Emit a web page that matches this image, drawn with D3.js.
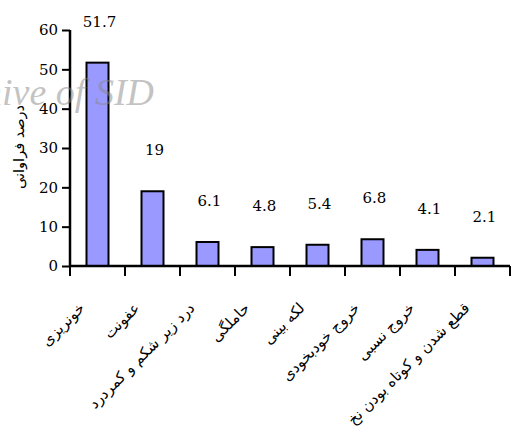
<!DOCTYPE html>
<html><head><meta charset="utf-8">
<script src="https://cdn.jsdelivr.net/npm/d3@7"></script>
<style>body{margin:0;background:#fff}svg{display:block}</style>
</head><body>
<script>
const categories = ["خونریزی","عفونت","درد زیر شکم و کمردرد","حاملگی","لکه بینی","خروج خودبخودی","خروج نسبی","قطع شدن و کوتاه بودن نخ"];
const values = [51.7, 19, 6.1, 4.8, 5.4, 6.8, 4.1, 2.1];
const valueLabels = ["51.7","19","6.1","4.8","5.4","6.8","4.1","2.1"];
const yTicks = [0,10,20,30,40,50,60];
const yTitle = "درصد فراوانی";
const watermark = "Archive of SID";

const W = 515, H = 439;
const svg = d3.select("body").append("svg").attr("width", W).attr("height", H);

const x = d3.scaleBand().domain(categories).range([70, 510]).paddingInner(0.6).paddingOuter(0.3);
const y = d3.scaleLinear().domain([0, 60]).range([266, 30]);

// bars
svg.selectAll("rect.bar").data(values).join("rect").attr("class", "bar")
  .attr("x", (d, i) => x(categories[i])).attr("width", x.bandwidth())
  .attr("y", d => y(d)).attr("height", d => y(0) - y(d))
  .attr("fill", "#9999ff").attr("stroke", "#000").attr("stroke-width", 2);

// value labels
svg.selectAll("text.val").data(values).join("text").attr("class", "val")
  .attr("x", (d, i) => x(categories[i]) + x.bandwidth() / 2 + 2)
  .attr("y", d => y(d) - 36)
  .attr("text-anchor", "middle").attr("font-family", "DejaVu Serif").attr("font-size", 15)
  .attr("fill", "#000").text((d, i) => valueLabels[i]);

// y axis
const ya = svg.append("g").attr("transform", "translate(70,0)")
  .call(d3.axisLeft(y).tickValues(yTicks).tickSize(8).tickPadding(4).tickFormat(d3.format("d")));
ya.select(".domain").attr("stroke-width", 2.5).attr("d", `M0,${y(60)}V${y(0)}`);
ya.selectAll(".tick line").attr("stroke-width", 2);
ya.selectAll(".tick text").attr("font-family", "DejaVu Serif").attr("font-size", 15).attr("fill", "#000");

// x axis
const xa = svg.append("g").attr("transform", `translate(0,${y(0)})`);
xa.append("line").attr("x1", 70).attr("x2", 510).attr("stroke", "#000").attr("stroke-width", 2.5);
const bounds = categories.map(c => x(c) - x.step() * x.paddingOuter()).concat([x.range()[1]]);
xa.selectAll("line.tk").data(bounds).join("line").attr("class", "tk")
  .attr("x1", d => d).attr("x2", d => d).attr("y1", 0).attr("y2", 10)
  .attr("stroke", "#000").attr("stroke-width", 2);

// x labels
svg.selectAll("text.cat").data(categories).join("text").attr("class", "cat")
  .attr("transform", c => `translate(${x(c) + x.bandwidth() / 2 - 12},${y(0) + 43}) rotate(-45)`)
  .attr("text-anchor", "end").attr("font-family", "DejaVu Sans").attr("font-size", 15)
  .attr("fill", "#000").text(c => c);

// y title
svg.append("text").attr("transform", "translate(24,147) rotate(-90)")
  .attr("text-anchor", "middle").attr("font-family", "DejaVu Sans").attr("font-size", 14.5)
  .attr("fill", "#000").text(yTitle);

// watermark
svg.append("text").attr("x", 154).attr("y", 105).attr("text-anchor", "end")
  .attr("font-family", "Liberation Serif").attr("font-style", "italic").attr("font-size", 38)
  .attr("fill", "#888").attr("fill-opacity", 0.5).text(watermark);
</script>
</body></html>
